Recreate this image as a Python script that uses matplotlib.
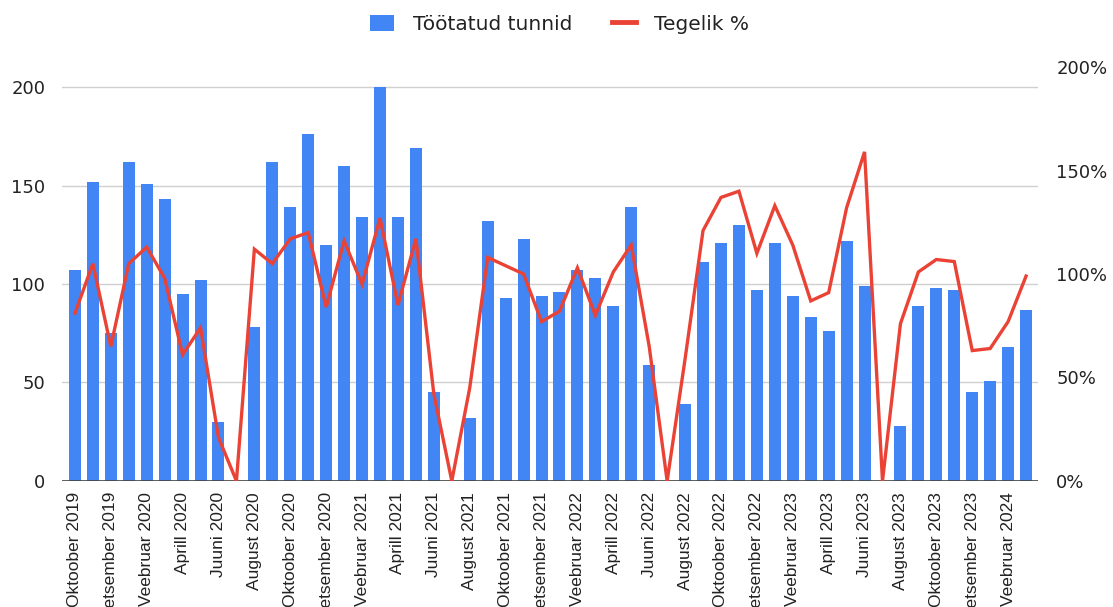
import matplotlib.pyplot as plt
from matplotlib import font_manager
from matplotlib.patches import Patch
from matplotlib.lines import Line2D
from matplotlib.ticker import FuncFormatter

# Months Oktoober 2019 .. Märts 2024
month_names = ['Jaanuar', 'Veebruar', 'Märts', 'Aprill', 'Mai', 'Juuni', 'Juuli',
               'August', 'September', 'Oktoober', 'November', 'Detsember']
start_year = 2019
start_month = 9  # index of Oktoober
n_months = 54
months = [f'{month_names[(start_month + i) % 12]} {start_year + (start_month + i) // 12}'
          for i in range(n_months)]

# Töötatud tunnid (bars, left axis)
hours = [107, 152, 75, 162, 151, 143, 95, 102, 30, 0,
         78, 162, 139, 176, 120, 160, 134, 200, 134, 169,
         45, 0, 32, 132, 93, 123, 94, 96, 107, 103,
         89, 139, 59, 0, 39, 111, 121, 130, 97, 121,
         94, 83, 76, 122, 99, 0, 28, 89, 98, 97,
         45, 51, 68, 87]

# Tegelik % (line, right axis)
actual_pct = [81, 105, 65, 105, 113, 98, 61, 74, 21, 0,
              112, 105, 117, 120, 84, 116, 95, 127, 85, 117,
              42, 0, 45, 108, 104, 100, 77, 82, 103, 80,
              101, 114, 65, 0, 59, 121, 137, 140, 110, 133,
              114, 87, 91, 132, 159, 0, 76, 101, 107, 106,
              63, 64, 77, 99]

blue = '#4285F4'
red = '#EA4335'

installed = {f.name for f in font_manager.fontManager.ttflist}
if 'Liberation Sans Narrow' in installed:
    xfont, xsize = 'Liberation Sans Narrow', 14.5
else:
    xfont, xsize = 'Liberation Sans', 12.5

fig = plt.figure(figsize=(11.13, 6.07), dpi=100)
ax = fig.add_axes([0.0557, 0.2076, 0.877, 0.682])
x = list(range(n_months))

ax.bar(x, hours, width=0.67, color=blue, zorder=2)
ax.set_xlim(-0.72, n_months - 1 + 0.67)
ax.set_ylim(0, 200 * 414 / 394)
ax.set_yticks([0, 50, 100, 150, 200])
ax.yaxis.grid(True, color='#d0d0d0', linewidth=1)
ax.set_axisbelow(True)
for s in ax.spines.values():
    s.set_visible(False)
ax.axhline(0, color='#444444', linewidth=1.2, zorder=3)
ax.tick_params(axis='y', length=0, pad=12, labelsize=13, labelcolor='#222222')
ax.set_xticks(x[::2])
ax.set_xticklabels(months[::2], rotation=90, ha='center', va='top',
                   family=xfont, fontsize=xsize, color='#222222')
ax.tick_params(axis='x', length=0, pad=8)

ax2 = ax.twinx()
ax2.plot(x, actual_pct, color=red, linewidth=2.4, solid_joinstyle='miter', zorder=4)
ax2.set_ylim(0, 200)
ax2.set_yticks([0, 50, 100, 150, 200])
ax2.yaxis.set_major_formatter(FuncFormatter(lambda v, p: f'{v:.0f}%'))
ax2.tick_params(axis='y', length=0, pad=13, labelsize=13, labelcolor='#222222')
for s in ax2.spines.values():
    s.set_visible(False)

handles = [Patch(facecolor=blue, edgecolor='none'),
           Line2D([0], [0], color=red, linewidth=3.5)]
fig.legend(handles, ['Töötatud tunnid', 'Tegelik %'], loc='center',
           bbox_to_anchor=(0.503, 0.96), ncol=2, frameon=False,
           fontsize=14.5, handlelength=1.2, handleheight=0.9,
           columnspacing=2.0, handletextpad=0.9, labelcolor='#222222')

fig.savefig('out.png', dpi=100)
